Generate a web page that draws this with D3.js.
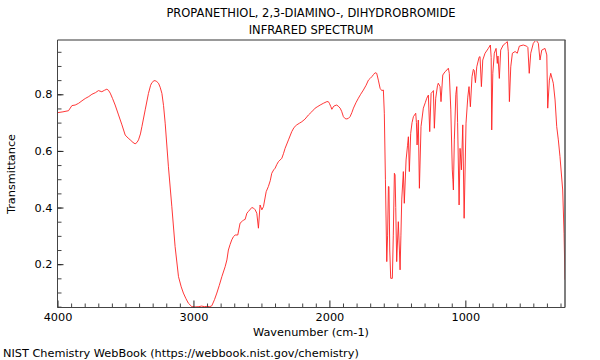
<!DOCTYPE html>
<html><head><meta charset="utf-8">
<script src="https://cdn.jsdelivr.net/npm/d3@7/dist/d3.min.js"></script>
<style>body{margin:0;background:#fff}svg{display:block}text{font-family:"DejaVu Sans",sans-serif;fill:#000}</style>
</head><body><svg id="c" width="600" height="360"></svg>
<script>
const titleLines = ["PROPANETHIOL, 2,3-DIAMINO-, DIHYDROBROMIDE", "INFRARED SPECTRUM"];
const xLabel = "Wavenumber (cm-1)";
const yLabel = "Transmittance";
const credit = "NIST Chemistry WebBook (https://webbook.nist.gov/chemistry)";
const xTicks = [4000, 3000, 2000, 1000];
const yTicks = [0.2, 0.4, 0.6, 0.8];
const wavenumber = [4000,3960,3919,3894,3870,3845,3820,3796,3770,3747,3720,3699,3674,3655,3637,3625,3612,3595,3576,3551,3526,3502,3480,3465,3445,3429,3415,3404,3390,3379,3355,3331,3315,3306,3290,3282,3270,3257,3245,3232,3220,3208,3184,3159,3135,3110,3090,3074,3055,3037,3012,2990,2960,2940,2920,2900,2880,2865,2845,2828,2810,2791,2767,2754,2743,2730,2718,2706,2693,2674,2657,2644,2632,2620,2607,2596,2571,2558,2546,2534,2522,2510,2497,2485,2465,2449,2435,2424,2410,2399,2387,2375,2350,2338,2326,2301,2277,2260,2240,2220,2203,2180,2154,2130,2105,2085,2068,2045,2019,2008,2000,1990,1982,1972,1965,1946,1935,1921,1910,1897,1884,1872,1860,1848,1835,1823,1805,1787,1770,1750,1730,1713,1700,1688,1675,1664,1652,1640,1627,1615,1603,1596,1588,1578,1572,1566,1562,1556,1549,1537,1530,1522,1517,1512,1505,1493,1485,1480,1474,1468,1456,1449,1436,1425,1419,1412,1402,1392,1382,1365,1360,1355,1346,1338,1326,1309,1295,1284,1272,1262,1252,1240,1235,1228,1218,1205,1199,1186,1179,1166,1149,1135,1125,1118,1107,1096,1092,1088,1081,1070,1063,1057,1046,1039,1029,1019,1009,995,982,973,963,951,941,935,926,916,899,892,882,872,855,831,816,810,806,798,787,774,765,760,750,740,721,705,691,684,676,666,654,634,618,603,574,549,540,530,519,500,480,463,451,438,414,401,394,382,372,353,340,328,316,304,284,274,267];
const transmittance = [0.735,0.738,0.742,0.760,0.762,0.768,0.777,0.785,0.792,0.800,0.806,0.813,0.809,0.814,0.818,0.814,0.804,0.785,0.762,0.727,0.692,0.656,0.645,0.639,0.630,0.625,0.630,0.639,0.660,0.686,0.745,0.803,0.832,0.841,0.848,0.848,0.845,0.839,0.825,0.803,0.760,0.698,0.544,0.403,0.262,0.156,0.120,0.098,0.078,0.062,0.050,0.049,0.050,0.052,0.050,0.051,0.050,0.053,0.075,0.098,0.125,0.156,0.191,0.215,0.250,0.270,0.286,0.297,0.303,0.303,0.345,0.350,0.356,0.358,0.380,0.386,0.400,0.398,0.392,0.380,0.327,0.409,0.392,0.403,0.456,0.474,0.495,0.521,0.533,0.539,0.552,0.562,0.574,0.590,0.609,0.639,0.668,0.683,0.692,0.698,0.703,0.712,0.727,0.738,0.751,0.757,0.762,0.768,0.774,0.774,0.768,0.757,0.747,0.755,0.759,0.762,0.758,0.751,0.740,0.721,0.714,0.713,0.715,0.721,0.735,0.751,0.770,0.786,0.800,0.815,0.832,0.850,0.856,0.862,0.870,0.876,0.874,0.850,0.821,0.813,0.815,0.733,0.500,0.209,0.300,0.474,0.474,0.250,0.150,0.150,0.300,0.521,0.515,0.400,0.209,0.350,0.250,0.180,0.300,0.427,0.527,0.415,0.568,0.620,0.650,0.527,0.662,0.700,0.721,0.733,0.700,0.621,0.709,0.468,0.686,0.751,0.770,0.786,0.797,0.668,0.803,0.810,0.813,0.680,0.786,0.830,0.839,0.827,0.774,0.868,0.880,0.886,0.892,0.874,0.745,0.533,0.500,0.462,0.639,0.800,0.827,0.700,0.409,0.609,0.533,0.692,0.362,0.698,0.790,0.827,0.756,0.862,0.888,0.885,0.841,0.897,0.931,0.933,0.827,0.921,0.945,0.962,0.974,0.930,0.674,0.874,0.945,0.962,0.909,0.935,0.856,0.956,0.974,0.980,0.986,0.950,0.774,0.897,0.945,0.951,0.945,0.970,0.974,0.970,0.965,0.874,0.945,0.980,0.992,0.980,0.921,0.956,0.962,0.939,0.751,0.850,0.874,0.839,0.780,0.686,0.639,0.580,0.462,0.309,0.145];

const svg = d3.select("#c");
const L = 57.5, R = 565, T = 40, B = 307.5;
const FS = "11.3px";
const x = d3.scaleLinear().domain([4000, 267]).range([L, R]);
const y = d3.scaleLinear().domain([0.047, 0.9917]).range([B, T]);

svg.append("defs").append("clipPath").attr("id","clip").append("rect")
  .attr("x", L).attr("y", T - 1).attr("width", R - L).attr("height", B - T + 1);

const data = wavenumber.map((w, i) => [w, transmittance[i]]);
svg.append("path").datum(data).attr("clip-path","url(#clip)")
  .attr("fill","none").attr("stroke","#ff2020").attr("stroke-width",0.9)
  .attr("d", d3.line().x(d => x(d[0])).y(d => y(d[1])));

// frame: top and right
svg.append("line").attr("x1",L).attr("x2",R+0.5).attr("y1",T).attr("y2",T).attr("stroke","#999").attr("stroke-width",2);
svg.append("line").attr("x1",R).attr("x2",R).attr("y1",T).attr("y2",B).attr("stroke","#555").attr("stroke-width",1.5);

// minor ticks
const xMinor = d3.range(300, 4001, 100).filter(v => xTicks.indexOf(v) < 0);
const yMinor = d3.range(1, 20).map(i => i * 0.05).filter(v => v >= 0.047 && v <= 0.99);
svg.append("g").attr("transform",`translate(0,${B})`)
  .call(d3.axisBottom(x).tickValues(xMinor).tickSize(-4).tickFormat(""))
  .call(g => g.select(".domain").remove()).selectAll("line").attr("stroke","#444");
svg.append("g").attr("transform",`translate(${L},0)`)
  .call(d3.axisLeft(y).tickValues(yMinor).tickSize(-4).tickFormat(""))
  .call(g => g.select(".domain").remove()).selectAll("line").attr("stroke","#444");

// major axes
const xa = svg.append("g").attr("transform",`translate(0,${B})`)
  .call(d3.axisBottom(x).tickValues(xTicks).tickSize(-7).tickPadding(5).tickFormat(d3.format("d")));
const ya = svg.append("g").attr("transform",`translate(${L},0)`)
  .call(d3.axisLeft(y).tickValues(yTicks).tickSize(-6).tickPadding(5).tickFormat(d3.format(".1f")));
[xa, ya].forEach(g => {
  g.select(".domain").attr("stroke","#444");
  g.selectAll(".tick line").attr("stroke","#222");
  g.selectAll("text").style("font-family","'DejaVu Sans', sans-serif").style("font-size",FS).attr("fill","#000");
});
xa.select(".domain").attr("d", `M${L},0H${R}`);
ya.select(".domain").attr("d", `M0,${B}V${T}`);

// texts
svg.append("text").attr("x",311).attr("y",17).attr("text-anchor","middle").style("font-size","11.5px").text(titleLines[0]);
svg.append("text").attr("x",311).attr("y",34).attr("text-anchor","middle").style("font-size","11.5px").text(titleLines[1]);
svg.append("text").attr("x",311).attr("y",336).attr("text-anchor","middle").style("font-size",FS).text(xLabel);
svg.append("text").attr("transform","translate(15,174) rotate(-90)").attr("text-anchor","middle").style("font-size",FS).text(yLabel);
svg.append("text").attr("x",3).attr("y",357).style("font-size",FS).text(credit);
</script></body></html>
